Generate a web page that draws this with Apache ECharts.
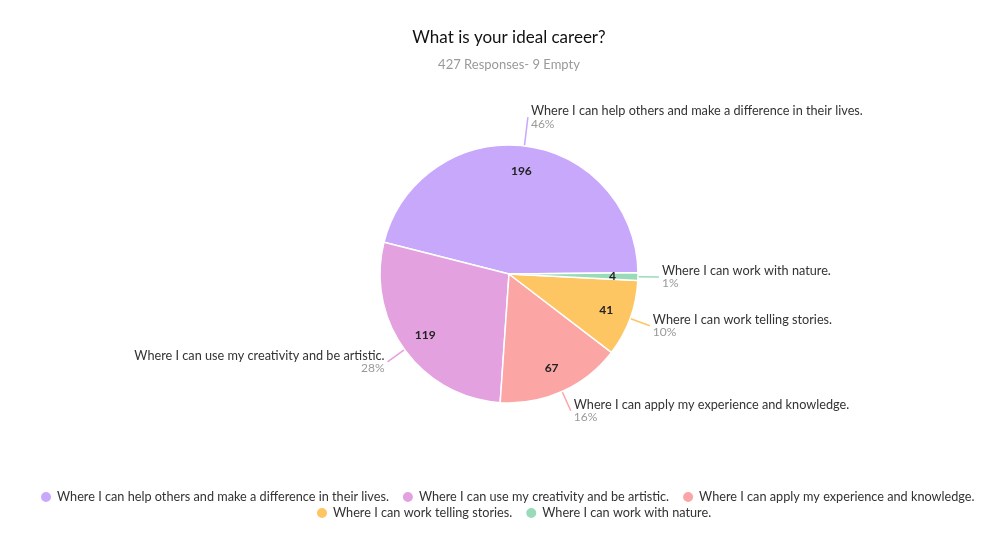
<!DOCTYPE html>
<html lang="en">
<head>
    <meta charset="UTF-8">
    <title>What is your ideal career?</title>
    <script src="https://cdn.jsdelivr.net/npm/echarts@6/dist/echarts.min.js"></script>
    <style>
        body { margin: 0; padding: 0; background: #fff; }
        #main { width: 1008px; height: 550px; }
    </style>
</head>
<body>
    <div id="main"></div>
    <script type="text/javascript">
        // answers and counts, legend order
        var categories = [
            'Where I can help others and make a difference in their lives.',
            'Where I can use my creativity and be artistic.',
            'Where I can apply my experience and knowledge.',
            'Where I can work telling stories.',
            'Where I can work with nature.'
        ];
        var counts = [196, 119, 67, 41, 4];
        var colors = ['#c8a8fb', '#e3a1df', '#fca5a5', '#fec563', '#99dbb8'];
        var lineLengths = [29, 21, 21, 21, 21];

        var total = counts.reduce(function (a, b) { return a + b; }, 0);
        var font = 'Lato';
        var fs = 12.7;

        var pieData = categories.map(function (name, i) {
            return { name: name, value: counts[i], labelLine: { length: lineLengths[i] } };
        });

        var myChart = echarts.init(document.getElementById('main'));

        var option = {
            backgroundColor: '#fff',
            color: colors,
            title: {
                text: 'What is your ideal career?',
                subtext: '427 Responses- 9 Empty',
                left: 504,
                textAlign: 'center',
                top: 24,
                itemGap: 12,
                textStyle: { fontFamily: font, fontSize: 17, fontWeight: 'normal', color: '#111' },
                subtextStyle: { fontFamily: font, fontSize: 13, color: '#9a9a9a' }
            },
            legend: [{
                data: categories.slice(0, 3),
                left: 34,
                top: 485,
                icon: 'circle',
                itemWidth: 12,
                itemHeight: 12,
                itemGap: 12,
                textStyle: { fontFamily: font, fontSize: fs, color: '#333' }
            }, {
                data: categories.slice(3),
                left: 310,
                top: 501,
                icon: 'circle',
                itemWidth: 12,
                itemHeight: 12,
                itemGap: 12,
                textStyle: { fontFamily: font, fontSize: fs, color: '#333' }
            }],
            series: [{
                // outer labels with name + percent
                name: 'career',
                type: 'pie',
                center: [509, 274],
                radius: 129,
                startAngle: 0.5,
                clockwise: false,
                avoidLabelOverlap: false,
                itemStyle: { borderColor: '#fff', borderWidth: 1.5 },
                label: {
                    show: true,
                    position: 'outside',
                    distanceToLabelLine: 3,
                    fontFamily: font,
                    formatter: function (p) {
                        return '{n|' + p.name + '}\n{p|' + Math.round(p.value / total * 100) + '%}';
                    },
                    rich: {
                        n: { fontFamily: font, fontSize: fs, color: '#333', lineHeight: 13 },
                        p: { fontFamily: font, fontSize: 12, color: '#999', lineHeight: 12 }
                    }
                },
                labelLine: { show: true, length: 21, length2: 0, lineStyle: { width: 1.5 } },
                emphasis: { scale: false },
                data: pieData
            }, {
                // counts drawn inside the slices
                name: 'count',
                type: 'pie',
                center: [509, 274],
                radius: [72, 129],
                startAngle: 0.5,
                clockwise: false,
                silent: true,
                itemStyle: { color: 'rgba(0,0,0,0)' },
                label: {
                    show: true,
                    position: 'inside',
                    formatter: '{c}',
                    fontFamily: font,
                    fontSize: 12,
                    fontWeight: 'bold',
                    color: '#222'
                },
                labelLine: { show: false },
                data: counts.map(function (v, i) { return { name: categories[i], value: v }; })
            }]
        };

        myChart.setOption(option);
    </script>
</body>
</html>
